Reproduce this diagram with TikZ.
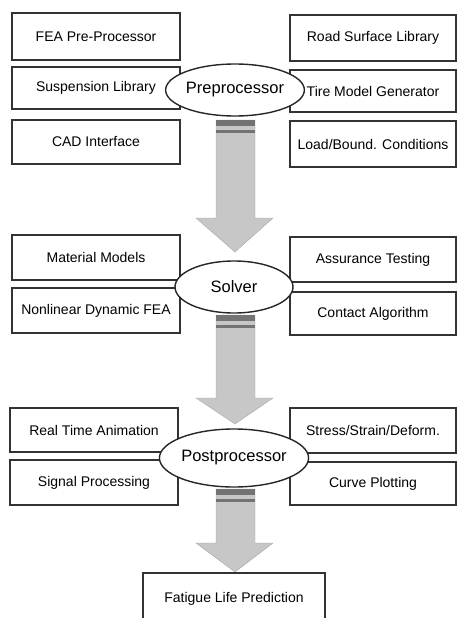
\documentclass[tikz,border=0pt]{standalone}
\usepackage{fontspec}
\setmainfont{Liberation Sans}
\usetikzlibrary{shapes.geometric}

\tikzset{
  x=1pt, y=-1pt,
  modbox/.style={draw=black!80, line width=1.3pt, fill=white, inner sep=0pt,
    font=\fontsize{14}{16}\selectfont},
  stage/.style={ellipse, draw=black!85, line width=1.4pt, fill=white, inner sep=0pt,
    minimum width=118pt, font=\fontsize{16.5}{18}\selectfont},
  flow/.style={fill=black!22, draw=black!35, line width=0.4pt},
  band/.style={fill=black!55},
}

% big down arrow: #1 shaft top, #2 head base, #3 tip
\newcommand{\flowarrow}[3]{%
  \path[flow] (216,#1) -- (255,#1) -- (255,#2) -- (273,#2) -- (235,#3)
    -- (196,#2) -- (216,#2) -- cycle;
  \fill[band] (216,#1) rectangle (255,#1+6);
  \fill[band] (216,#1+10) rectangle (255,#1+13);
}

\begin{document}
\begin{tikzpicture}
  \useasboundingbox (0,0) rectangle (457,618);

  % preprocessor group
  \node[modbox, minimum width=168pt, minimum height=47pt] (fea)   at (96,36.5) {FEA Pre-Processor};
  \node[modbox, minimum width=168pt, minimum height=42pt] (susp)  at (96,88) {Suspension Library};
  \node[modbox, minimum width=168pt, minimum height=44pt] (cad)   at (96,142) {CAD Interface};
  \node[modbox, minimum width=166pt, minimum height=46pt] (road)  at (373,38) {Road Surface Library};
  \node[modbox, minimum width=166pt, minimum height=42pt] (tire)  at (373,91) {Tire Model Generator};
  \node[modbox, minimum width=166pt, minimum height=46pt] (load)  at (373,144) {Load/Bound. Conditions};
  \node[stage, minimum height=52pt] (pre) at (235,90) {Preprocessor};

  \flowarrow{120}{218}{252}

  % solver group
  \node[modbox, minimum width=168pt, minimum height=45pt] (mat)     at (96,257.5) {Material Models};
  \node[modbox, minimum width=168pt, minimum height=45pt] (nonlin)  at (96,310.5) {Nonlinear Dynamic FEA};
  \node[modbox, minimum width=166pt, minimum height=45pt] (assur)   at (373,259.5) {Assurance Testing};
  \node[modbox, minimum width=166pt, minimum height=43pt] (contact) at (373,313.5) {Contact Algorithm};
  \node[stage, minimum height=52pt] (solver) at (234,287) {Solver};

  \flowarrow{315}{398}{424}

  % postprocessor group
  \node[modbox, minimum width=168pt, minimum height=44pt] (anim)   at (94,430) {Real Time Animation};
  \node[modbox, minimum width=168pt, minimum height=45pt] (signal) at (94,482.5) {Signal Processing};
  \node[modbox, minimum width=166pt, minimum height=45pt] (stress) at (373,430.5) {Stress/Strain/Deform.};
  \node[modbox, minimum width=166pt, minimum height=43pt] (curve)  at (373,483.5) {Curve Plotting};
  \node[stage, minimum height=58pt] (post) at (234,458) {Postprocessor};

  \flowarrow{489}{543}{572}

  \node[modbox, minimum width=182pt, minimum height=56pt, text depth=8pt] (fatigue) at (234,601) {Fatigue Life Prediction};
\end{tikzpicture}
\end{document}
